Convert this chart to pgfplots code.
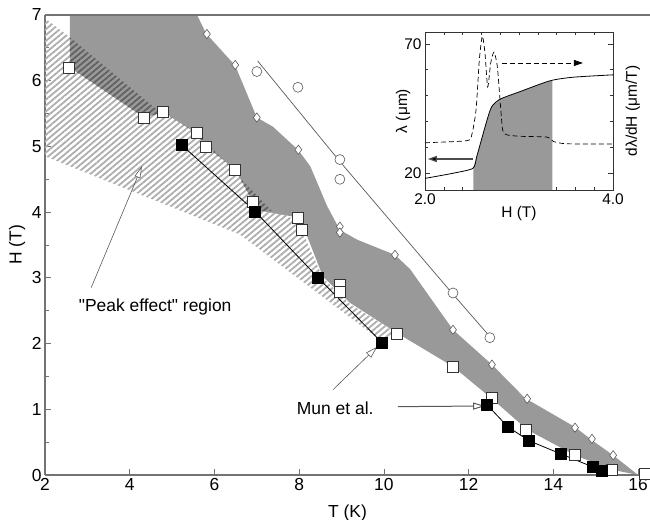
\documentclass[border=0pt]{standalone}
\usepackage{fontspec}
\setmainfont{Liberation Sans}
\usepackage{pgfplots}
\pgfplotsset{compat=1.18}
\usetikzlibrary{patterns.meta, arrows.meta}

\definecolor{shade}{gray}{0.6}
\definecolor{axisgray}{gray}{0.45}
\definecolor{markgray}{gray}{0.35}
\definecolor{hatchlight}{gray}{0.68}
\definecolor{hatchdark}{gray}{0.38}

\begin{document}
\begin{tikzpicture}
\useasboundingbox (0,0) rectangle (650bp,520bp);

% main phase diagram
\begin{axis}[
  at={(45bp,45bp)}, anchor=south west,
  scale only axis, width=605bp, height=460bp,
  xmin=2, xmax=16.28, ymin=0, ymax=7,
  axis lines*=left,
  axis line style={axisgray, line width=1.2bp},
  tick align=inside,
  xtick={2,4,...,16}, ytick={0,...,7},
  minor ytick={0.5,1.5,...,6.5},
  major tick length=6bp, minor tick length=4bp,
  tick style={axisgray, line width=0.8bp},
  font=\fontsize{17.5}{20}\selectfont,
  /pgf/number format/assume math mode=true,
  xlabel={T (K)}, ylabel={H (T)},
  every axis x label/.style={at={(rel axis cs:0.5,-0.083)}, anchor=center},
  every axis y label/.style={at={(rel axis cs:-0.046,0.5)}, rotate=90, anchor=center},
]
% hatched region, light lines on white
\addplot[draw=none, pattern={Lines[angle=40, distance=4.5bp, line width=1.8bp]},
  pattern color=hatchlight] coordinates {
  (2.0,6.95) (2.59,6.66) (4.64,5.56) (5.59,5.21) (7.15,4.15) (7.97,3.85)
  (8.56,3.0) (9.2,2.6) (10.31,2.16) (9.98,2.02) (6.60,3.66) (2.0,4.85)
} -- cycle;
% grey region
\addplot[fill=shade, draw=none] coordinates {
  (2.59,7.0) (5.59,7.0) (5.80,6.72) (6.49,6.23) (7.0,5.44) (7.38,5.30)
  (7.97,4.95) (8.26,4.70) (8.66,4.09) (8.96,3.73) (9.37,3.58) (10.26,3.35)
  (10.62,3.13) (11.63,2.21) (12.55,1.68) (13.33,1.17) (14.51,0.73)
  (14.91,0.53) (15.41,0.30) (16.0,0.0) (15.39,0.08) (14.51,0.30)
  (13.38,0.69) (12.55,1.16) (11.63,1.65) (10.31,2.16) (9.2,2.62)
  (8.56,3.02) (8.19,3.63) (7.97,3.92) (7.08,4.02) (6.91,4.15) (6.49,4.65)
  (5.80,5.0) (5.58,5.2) (4.79,5.52) (4.34,5.44) (2.59,6.2)
} -- cycle;
% overlap of both regions, dark lines on grey
\addplot[draw=none, pattern={Lines[angle=40, distance=4.5bp, line width=1.8bp]},
  pattern color=hatchdark] coordinates {
  (2.59,6.66) (4.64,5.56) (5.59,5.21) (7.15,4.15) (7.35,4.02) (7.08,4.02)
  (6.91,4.15) (6.49,4.65) (5.80,5.0) (5.58,5.2) (4.79,5.52) (4.34,5.44)
  (2.59,6.2)
} -- cycle;
% line through circles
\addplot[markgray, line width=0.7bp] coordinates {
  (7.02,6.30) (8.96,4.77) (11.63,2.75) (12.55,2.07)
};
\addplot[only marks, mark=*, mark size=5bp,
  mark options={fill=white, draw=markgray, line width=0.6bp}] coordinates {
  (7.0,6.14) (7.97,5.90) (8.96,4.80) (8.96,4.50) (11.63,2.77) (12.5,2.09)
};
\addplot[only marks, mark=diamond*, mark size=4.6bp,
  mark options={fill=white, draw=markgray, line width=0.6bp}] coordinates {
  (5.82,6.71) (6.49,6.24) (7.0,5.44) (7.98,4.95) (8.96,3.78) (8.96,3.69)
  (10.26,3.35) (11.63,2.21) (12.55,1.68) (13.38,1.16) (14.51,0.72)
  (14.91,0.55) (15.41,0.30)
};
\addplot[only marks, mark=square*, mark size=5.5bp,
  mark options={fill=white, draw=black!80, line width=0.7bp}] coordinates {
  (2.57,6.20) (4.34,5.44) (4.79,5.52) (5.58,5.20) (5.80,5.00) (6.49,4.65)
  (6.91,4.15) (7.97,3.92) (8.07,3.73) (8.96,2.90) (8.96,2.79) (10.31,2.15)
  (11.63,1.65) (12.55,1.17) (13.36,0.69) (14.51,0.30) (15.39,0.08)
  (16.16,0.02)
};
% Mun et al.
\addplot[black, line width=0.8bp, mark=square*, mark size=5.5bp,
  mark options={fill=black}] coordinates {
  (5.23,5.02) (6.96,4.01) (8.45,3.00) (9.96,2.01)
};
\addplot[black, line width=0.8bp, mark=square*, mark size=5.5bp,
  mark options={fill=black}] coordinates {
  (12.43,1.07) (12.93,0.73) (13.43,0.52) (14.18,0.32) (14.94,0.12)
  (15.15,0.06)
};
% annotations
\draw[markgray, line width=0.6bp, -{Triangle[fill=white, length=12bp, width=6bp]}]
  (axis cs:3.09,2.85) -- (axis cs:4.29,4.70);
\draw[markgray, line width=0.6bp, -{Triangle[fill=white, length=12bp, width=7bp]}]
  (axis cs:8.80,1.30) -- (axis cs:9.84,1.95);
\draw[markgray, line width=1bp, -{Triangle[fill=white, length=12bp, width=7bp]}]
  (axis cs:10.33,1.04) -- (axis cs:12.39,1.05);
\node[font=\fontsize{17.5}{20}\selectfont] at (axis cs:4.60,2.56)
  {\textquotedbl Peak effect\textquotedbl{} region};
\node[font=\fontsize{17.5}{20}\selectfont] at (axis cs:8.85,1.02) {Mun et al.};
\draw[axisgray, line width=2bp] (rel axis cs:0,1) -- (rel axis cs:1,1);
\end{axis}

% inset
\begin{axis}[
  at={(425bp,330bp)}, anchor=south west,
  scale only axis, width=188bp, height=158bp,
  xmin=2, xmax=4, ymin=13.4, ymax=74.6,
  xtick={2,4}, xticklabels={2.0,4.0},
  minor xtick={2.2,2.4,2.6,2.8,3.0,3.2,3.4,3.6,3.8},
  ytick={20,70}, minor ytick={30,40,50,60},
  tick align=inside,
  major tick length=5bp, minor tick length=3bp,
  axis line style={black!80, line width=0.8bp},
  tick style={black!80, line width=0.6bp},
  axis background/.style={fill=white},
  font=\fontsize{15.5}{18}\selectfont,
  /pgf/number format/assume math mode=true,
  clip=false,
  xlabel={H (T)}, ylabel={λ (μm)},
  every axis x label/.style={at={(rel axis cs:0.5,-0.146)}, anchor=center},
  every axis y label/.style={at={(rel axis cs:-0.117,0.5)}, rotate=90, anchor=center},
]
\addplot[fill=shade, draw=none] coordinates {
  (2.514,13.4) (2.514,21.9) (2.55,26.3) (2.60,32.8) (2.66,40.5) (2.71,45.7)
  (2.80,48.6) (3.01,51.5) (3.33,55.7) (3.354,55.8) (3.354,13.4)
} -- cycle;
\addplot[black, line width=0.8bp, smooth, tension=0.4] coordinates {
  (2.0,17.9) (2.30,19.9) (2.51,21.8) (2.55,26.3) (2.60,32.8) (2.66,40.5)
  (2.71,45.7) (2.80,48.6) (3.01,51.5) (3.33,55.7) (3.58,57.1) (4.0,58.0)
};
\addplot[black, line width=0.7bp, smooth, tension=0.4, dash pattern=on 5bp off 3bp] coordinates {
  (2.0,31.7) (2.444,32.5) (2.497,34.7) (2.543,44.4) (2.578,63.8) (2.610,73.0)
  (2.638,66.4) (2.667,53.3) (2.699,62.6) (2.734,66.8) (2.769,61.4)
  (2.798,48.4) (2.826,36.7) (2.869,34.8) (3.011,34.2) (3.295,33.9)
  (3.366,32.2) (3.508,31.3) (4.0,31.2)
};
\draw[black, line width=0.8bp, dash pattern=on 5bp off 3bp, -{Triangle[length=9bp, width=6bp]}]
  (axis cs:2.82,62.6) -- (axis cs:3.68,62.6);
\draw[black!70, line width=1.2bp, -{Triangle[length=9bp, width=6bp, fill=black]}]
  (axis cs:2.51,25.4) -- (axis cs:2.03,25.4);
\node[rotate=90] at (rel axis cs:1.106,0.5) {dλ/dH (μm/T)};
\end{axis}
\end{tikzpicture}
\end{document}
